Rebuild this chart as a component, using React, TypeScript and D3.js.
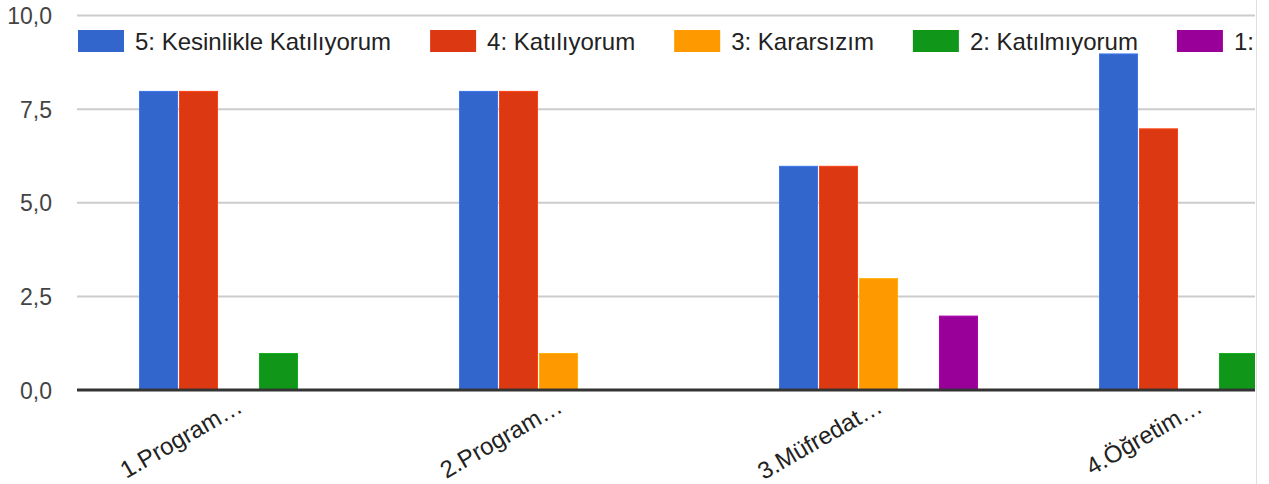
import React, { useEffect, useRef } from "react";
import * as d3 from "d3";

const categories = ["1.Program…", "2.Program…", "3.Müfredat…", "4.Öğretim…"];
const seriesNames = [
  "5: Kesinlikle Katılıyorum",
  "4: Katılıyorum",
  "3: Kararsızım",
  "2: Katılmıyorum",
  "1: Kesinlikle Katılmıyorum",
];
const seriesColors = ["#3366cc", "#dc3912", "#ff9900", "#109618", "#990099"];
// values per category, in series order (5,4,3,2,1)
const values5 = [8, 8, 6, 9];
const values4 = [8, 8, 6, 7];
const values3 = [0, 1, 3, 0];
const values2 = [1, 0, 0, 1];
const values1 = [0, 0, 2, 0];
const yTicks = [0, 2.5, 5, 7.5, 10];

const W = 1269;
const H = 484;
const FONT = "'Liberation Sans', Arial, sans-serif";

export default function App() {
  const ref = useRef<SVGSVGElement>(null);

  useEffect(() => {
    const svg = d3.select(ref.current);
    svg.selectAll("*").remove();

    const series = [values5, values4, values3, values2, values1];
    const clipRight = 1255;

    const y = d3.scaleLinear().domain([0, 10]).range([390, 15.5]);
    const x0 = d3
      .scaleBand<string>()
      .domain(categories)
      .range([79, 1359])
      .paddingInner(0.375)
      .paddingOuter(0.1875);
    const x1 = d3
      .scaleBand<number>()
      .domain(d3.range(seriesNames.length))
      .range([0, x0.bandwidth()]);

    svg
      .append("defs")
      .append("clipPath")
      .attr("id", "plotclip")
      .append("rect")
      .attr("x", 0)
      .attr("y", 0)
      .attr("width", clipRight)
      .attr("height", H);

    const plot = svg.append("g").attr("clip-path", "url(#plotclip)");

    // gridlines
    plot
      .selectAll("line.grid")
      .data(yTicks.filter((t) => t !== 0))
      .join("line")
      .attr("x1", 77)
      .attr("x2", clipRight)
      .attr("y1", (d) => y(d))
      .attr("y2", (d) => y(d))
      .attr("stroke", "#cccccc")
      .attr("stroke-width", 2);

    // y tick labels
    svg
      .selectAll("text.ytick")
      .data(yTicks)
      .join("text")
      .attr("x", 52)
      .attr("y", (d) => y(d) + 8.5)
      .attr("text-anchor", "end")
      .attr("font-family", FONT)
      .attr("font-size", 23)
      .attr("fill", "#444")
      .text((d) => d3.format(".1f")(d).replace(".", ","));

    // bars
    categories.forEach((cat, ci) => {
      series.forEach((vals, si) => {
        const v = vals[ci];
        if (!v) return;
        const bx = (x0(cat) as number) + (x1(si) as number);
        const c = d3.color(seriesColors[si])!;
        plot
          .append("rect")
          .attr("x", bx + 0.5)
          .attr("y", y(v) + 1)
          .attr("width", x1.bandwidth() - 2)
          .attr("height", y(0) - y(v) - 2)
          .attr("fill", seriesColors[si])
          .attr("stroke", c.brighter(0.4).formatHex())
          .attr("stroke-width", 1);
      });
    });

    // baseline
    plot
      .append("line")
      .attr("x1", 77)
      .attr("x2", clipRight)
      .attr("y1", y(0))
      .attr("y2", y(0))
      .attr("stroke", "#333333")
      .attr("stroke-width", 3);

    // x labels
    svg
      .selectAll("text.xlab")
      .data(categories)
      .join("text")
      .attr(
        "transform",
        (d) => `translate(${(x0(d) as number) + x0.bandwidth() / 2 + 5},${411}) rotate(-30)`
      )
      .attr("text-anchor", "end")
      .attr("font-family", FONT)
      .attr("font-size", 24)
      .attr("fill", "#222")
      .text((d) => d);

    // legend (entries that do not fit are shortened to their leading key, as in the source)
    const leg = svg.append("g");
    const legendRight = 1248;
    let lx = 78;
    seriesNames.forEach((name, i) => {
      leg
        .append("rect")
        .attr("x", lx)
        .attr("y", 30)
        .attr("width", 46)
        .attr("height", 22)
        .attr("fill", seriesColors[i]);
      const t = leg
        .append("text")
        .attr("x", lx + 57)
        .attr("y", 50)
        .attr("font-family", FONT)
        .attr("font-size", 24)
        .attr("fill", "#222")
        .text(name);
      let w = (t.node() as SVGTextElement).getComputedTextLength();
      if (lx + 57 + w > legendRight) {
        t.text(name.split(" ")[0]);
        w = (t.node() as SVGTextElement).getComputedTextLength();
      }
      lx = lx + 57 + w + 39;
    });

    // right border of the clipped view
    svg
      .append("line")
      .attr("x1", 1256.5)
      .attr("x2", 1256.5)
      .attr("y1", 0)
      .attr("y2", H)
      .attr("stroke", "#e0e0e0")
      .attr("stroke-width", 1);
  }, []);

  return (
    <svg
      ref={ref}
      width={W}
      height={H}
      style={{ position: "absolute", left: 0, top: 0, background: "#fff" }}
    />
  );
}
